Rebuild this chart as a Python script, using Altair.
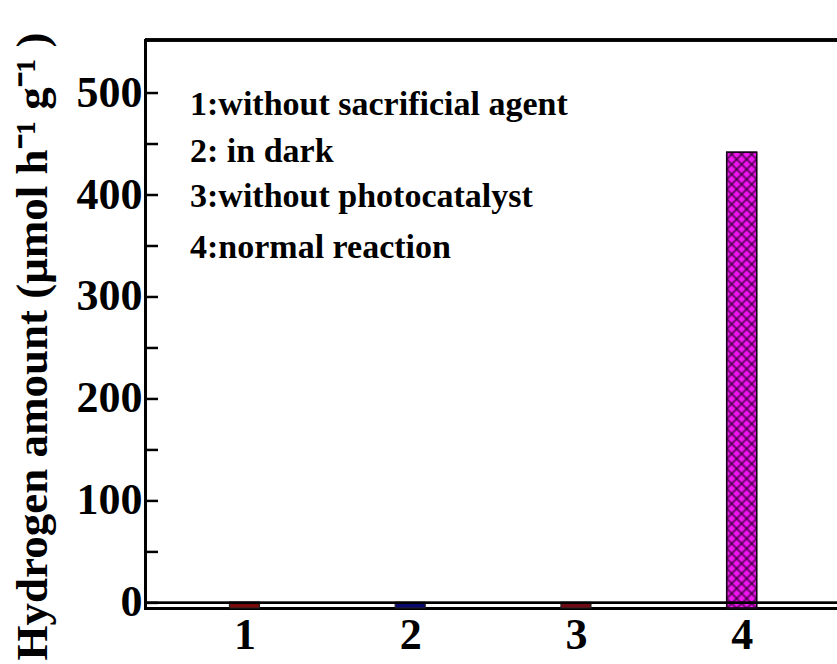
import altair as alt
import pandas as pd

# ---- data ----
conditions = [1, 2, 3, 4]
hydrogen = [0.8, 0.6, 0.5, 442]
bar_colors = ["#7a0a0a", "#0a0a6e", "#6e0a14", "#f014f0"]
notes = ["1:without sacrificial agent", "2: in dark", "3:without photocatalyst", "4:normal reaction"]
y_major = [0, 100, 200, 300, 400, 500]
y_minor = [0, 50, 100, 150, 200, 250, 300, 350, 400, 450, 500]
x_ticks = [1, 2, 3, 4]

# ---- layout / style ----
Y_MIN, Y_MAX = -5, 552
X_MIN, X_MAX = 0.43, 4.545
W, H = 692, 568
FONT = "Liberation Serif"
note_y = [65, 112, 157, 208]

df = pd.DataFrame({"cond": conditions, "h2": hydrogen, "color": bar_colors})
ticks_df = pd.DataFrame({"t": y_minor})

xs = alt.Scale(domain=[X_MIN, X_MAX], nice=False, zero=False)
ys = alt.Scale(domain=[Y_MIN, Y_MAX], nice=False, zero=False)

xaxis = alt.Axis(
    values=x_ticks, ticks=False, grid=False, title=None,
    domain=True, domainWidth=3, domainColor="black", domainCap="square",
    labelFont=FONT, labelFontSize=44, labelFontWeight="bold", labelColor="black",
    labelPadding=5, labelBaseline="top", format="d")
yaxis = alt.Axis(
    values=y_major, ticks=False, grid=False,
    domain=True, domainWidth=3, domainColor="black", domainCap="square",
    labelFont=FONT, labelFontSize=44, labelFontWeight="bold", labelColor="black",
    labelPadding=3, format="d",
    title="Hydrogen amount (μmol h⁻¹ g⁻¹ )",
    titleFont=FONT, titleFontSize=45, titleFontWeight="bold", titleColor="black",
    titleAngle=270, titleX=-113, titleY=306, titleAlign="center", titleBaseline="middle")


def hatch(direction):
    s = 1.061
    period = 0.0218 / s
    dark = "rgba(50,0,50,0.72)"
    clear = "rgba(50,0,50,0)"
    stops = []
    k = 0
    while (k + 1) * period < 1:
        o = k * period
        for frac, c in [(0.0, clear), (0.45, clear), (0.72, dark), (0.98, clear)]:
            stops.append(alt.GradientStop(offset=round(o + frac * period, 5), color=c))
        k += 1
    stops.append(alt.GradientStop(offset=1, color=clear))
    if direction == 1:
        return alt.LinearGradient(gradient="linear", stops=stops, x1=0, y1=0, x2=0.0658 * s, y2=s)
    return alt.LinearGradient(gradient="linear", stops=stops, x1=1, y1=0, x2=1 - 0.0658 * s, y2=s)


bars = alt.Chart(df).mark_bar(size=30, stroke="#222222", strokeWidth=1.2).encode(
    x=alt.X("cond:Q", scale=xs, axis=xaxis),
    y=alt.Y("h2:Q", scale=ys, axis=yaxis),
    y2=alt.datum(Y_MIN),
    color=alt.Color("color:N", scale=None),
)

big = df[df["cond"] == 4]


def big_bar(**mark):
    return alt.Chart(big).mark_bar(size=30, **mark).encode(
        x=alt.X("cond:Q", scale=xs, axis=xaxis),
        y=alt.Y("h2:Q", scale=ys, axis=yaxis),
        y2=alt.datum(Y_MIN),
    )


hatch1 = big_bar(fill=hatch(1), strokeWidth=0)
hatch2 = big_bar(fill=hatch(2), strokeWidth=0)
outline = big_bar(fillOpacity=0, stroke="#1a001a", strokeWidth=1.5)

zero_line = alt.Chart(df).mark_rule(color="black", strokeWidth=2.2).encode(
    y=alt.Y(datum=0, scale=ys, axis=yaxis), x=alt.value(0), x2=alt.value(W))
top_line = alt.Chart(df).mark_rule(color="black", strokeWidth=3).encode(
    y=alt.Y(datum=Y_MAX, scale=ys, axis=yaxis), x=alt.value(0), x2=alt.value(W))

tick_marks = alt.Chart(ticks_df).mark_rule(color="black", strokeWidth=2.5).encode(
    y=alt.Y("t:Q", scale=ys, axis=yaxis), x=alt.value(0), x2=alt.value(13))

layers = [bars, hatch1, hatch2, outline, zero_line, top_line, tick_marks]
for txt, yy in zip(notes, note_y):
    layers.append(
        alt.Chart(pd.DataFrame({"note": [txt]})).mark_text(
            font=FONT, fontSize=34, fontWeight="bold", color="black",
            align="left", baseline="middle").encode(
            text="note:N", x=alt.value(45), y=alt.value(yy))
    )

chart = alt.layer(*layers).properties(
    width=W, height=H,
    autosize=alt.AutoSizeParams(type="none"),
    padding={"left": 145, "top": 40, "right": 0, "bottom": 56},
).configure_view(stroke=None).configure(background="white")

chart.save("out.html", embed_options={"renderer": "svg", "actions": False})
